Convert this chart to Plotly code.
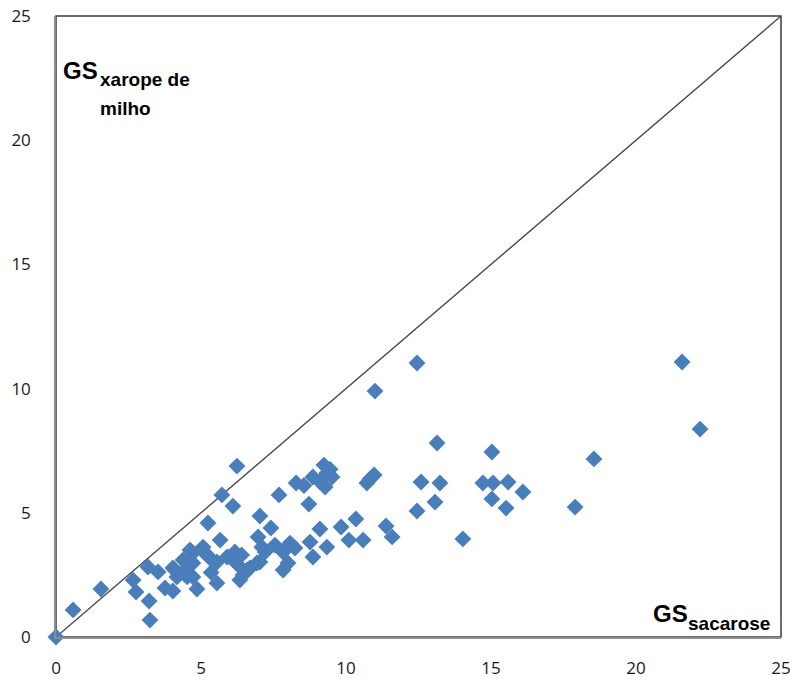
import plotly.graph_objects as go

# GS sucrose (x) vs GS corn syrup (y)
gs_sacarose = [
    0.0, 0.59, 1.55, 2.66, 2.76, 3.21, 3.24, 3.17, 3.52, 3.76, 4.03, 4.10, 4.52, 4.38,
    4.72, 5.07, 4.86, 4.45, 4.72, 4.62, 5.21, 5.55, 6.00, 6.28, 6.45, 6.69, 7.03, 7.21,
    7.55, 7.83, 8.24, 8.00, 7.83, 5.55, 6.34, 5.31, 5.66, 5.03, 5.90, 6.17, 6.59, 6.93,
    7.10, 4.03, 4.17, 4.72, 5.24, 5.72, 6.10, 6.24, 7.03, 7.41, 6.97, 7.69, 8.28, 8.72,
    8.86, 9.24, 9.34, 9.28, 9.52, 9.10, 8.76, 9.34, 8.86, 8.07, 9.83, 10.34, 10.10, 10.59,
    11.38, 11.59, 10.83, 10.97, 10.72, 11.00, 12.45, 13.14, 12.59, 13.24, 13.07, 12.45,
    14.03, 14.72, 15.07, 15.59, 15.03, 15.03, 15.52, 16.10, 17.90, 18.55, 21.59, 22.21,
    9.10, 8.55, 9.45, 5.35, 6.40,
]
gs_xarope = [
    0.0, 1.09, 1.93, 2.29, 1.81, 1.45, 0.68, 2.82, 2.62, 1.97, 1.85, 2.70, 2.42, 3.10,
    3.38, 3.62, 1.93, 2.70, 2.98, 3.50, 3.30, 3.02, 3.22, 2.90, 2.50, 2.78, 3.02, 3.42,
    3.70, 3.42, 3.58, 2.98, 2.70, 2.17, 2.29, 3.18, 3.90, 3.50, 3.22, 3.42, 2.70, 2.98,
    3.62, 2.78, 2.42, 2.42, 4.59, 5.72, 5.27, 6.88, 4.87, 4.39, 4.03, 5.72, 6.20, 5.35,
    6.44, 6.92, 6.60, 6.04, 6.44, 4.35, 3.82, 3.62, 3.22, 3.78, 4.43, 4.75, 3.90, 3.90,
    4.47, 4.03, 6.36, 6.52, 6.20, 9.90, 11.03, 7.81, 6.24, 6.20, 5.43, 5.07,
    3.95, 6.20, 6.20, 6.24, 7.45, 5.56, 5.19, 5.84, 5.23, 7.17, 11.07, 8.37,
    6.25, 6.10, 6.75, 2.60, 3.30,
]
diag_x = [0, 25]
diag_y = [0, 25]
tick_vals = [0, 5, 10, 15, 20, 25]
tick_text = ["0", "5", "10", "15", "20", "25"]

W, H = 794, 680
ML, MR, MT, MB = 56, 13, 16, 43
PW, PH = W - ML - MR, H - MT - MB

def px(x):
    return (x - ML) / PW

def py(y):
    return (H - MB - y) / PH

fig = go.Figure()
fig.add_trace(go.Scatter(x=diag_x, y=diag_y, mode="lines",
                         line=dict(color="#3f3f3f", width=1.3), hoverinfo="skip",
                         showlegend=False))
fig.add_trace(go.Scatter(x=gs_sacarose, y=gs_xarope, mode="markers",
                         marker=dict(symbol="diamond", size=13, color="#4a7ebb",
                                     line=dict(width=0)),
                         cliponaxis=False, showlegend=False))

axis_common = dict(range=[0, 25], tickvals=tick_vals, ticktext=tick_text,
                   showgrid=False, zeroline=False, showline=True, automargin=False,
                   linecolor="#8c8c8c", linewidth=1.5, ticks="",
                   tickfont=dict(family="Open Sans", size=17, color="#1a1a1a"))

fig.update_layout(
    width=W, height=H,
    margin=dict(l=ML, r=MR, t=MT, b=MB, autoexpand=False),
    paper_bgcolor="white", plot_bgcolor="white",
    xaxis=dict(**axis_common, ticklabelstandoff=15),
    yaxis=dict(**axis_common, ticklabelstandoff=20),
    shapes=[dict(type="rect", xref="paper", yref="paper", x0=0, y0=0, x1=1, y1=1,
                 line=dict(color="#3c3c3c", width=1.5), layer="below")],
)

ann_font_big = dict(family="Liberation Sans", size=24, color="black")
ann_font_small = dict(family="Liberation Sans", size=19, color="black")
anns = [
    dict(text="<b>GS</b>", x=px(61), y=py(70), font=ann_font_big, xanchor="left", yanchor="middle"),
    dict(text="<b>xarope de</b>", x=px(98), y=py(79), font=ann_font_small, xanchor="left", yanchor="middle"),
    dict(text="<b>milho</b>", x=px(98), y=py(108), font=ann_font_small, xanchor="left", yanchor="middle"),
    dict(text="<b>GS</b>", x=px(651), y=py(613), font=ann_font_big, xanchor="left", yanchor="middle"),
    dict(text="<b>sacarose</b>", x=px(686), y=py(623), font=ann_font_small, xanchor="left", yanchor="middle"),
]
for a in anns:
    fig.add_annotation(xref="paper", yref="paper", showarrow=False, **a)

fig.write_html("out.html")
